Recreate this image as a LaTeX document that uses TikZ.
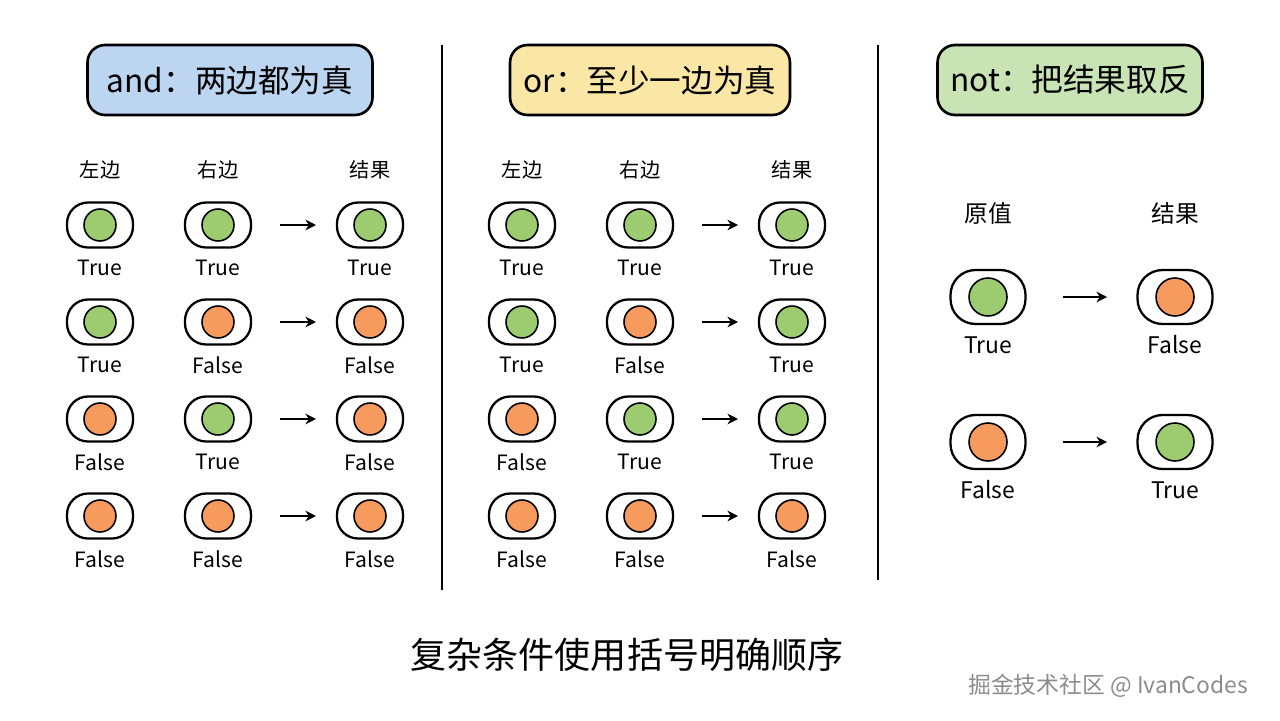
\documentclass[tikz,border=0pt]{standalone}
\usepackage{fontspec}
\setmainfont{Noto Sans CJK SC}
\usetikzlibrary{arrows,arrows.meta}
\definecolor{tgreen}{HTML}{9CCC6F}
\definecolor{torange}{HTML}{F79A5E}
\definecolor{bblue}{HTML}{BCD6F2}
\definecolor{byellow}{HTML}{FBE7A5}
\definecolor{bgreen}{HTML}{C8E3B4}
\newcommand{\tok}[5]{%
  \node[outer] (#1) at (#2,#3) {};
  \node[inner, fill=#4] at (#1) {};
  \node[lbl] (#1l) at (#2,#3+43) {#5};}
\newcommand{\bigtok}[5]{%
  \node[outer, minimum width=1.5cm, minimum height=1.08cm, rounded corners=0.5cm] (#1) at (#2,#3) {};
  \node[inner, minimum size=0.76cm, fill=#4] at (#1) {};
  \node[lbl, font=\fontsize{13}{13}\selectfont] (#1l) at (#2,#3+48) {#5};}
\begin{document}
\begin{tikzpicture}[x=0.02cm, y=-0.02cm, >=stealth]
		\tikzstyle{outer} = [draw, line width=1.3pt, rounded corners=0.42cm, minimum width=1.32cm, minimum height=0.9cm, inner sep=0pt]
		\tikzstyle{inner} = [draw, line width=0.9pt, circle, minimum size=0.64cm, inner sep=0pt]
		\tikzstyle{lbl} = [font=\fontsize{12}{12}\selectfont]
		\tikzstyle{head} = [font=\fontsize{11.5}{11.5}\selectfont]
		\tikzstyle{title} = [draw, line width=1.5pt, rounded corners=0.35cm, minimum height=1.4cm, font=\fontsize{18}{18}\selectfont]
		\tikzstyle{arr} = [-{Stealth[length=6pt,width=6pt]}, line width=1.1pt]

		\useasboundingbox (0,0) rectangle (1280,720);

		% titles
		\node[title, fill=bblue, minimum width=5.7cm] (tand) at (230,80) {and：两边都为真};
		\node[title, fill=byellow, minimum width=5.6cm] (tor) at (650,80) {or：至少一边为真};
		\node[title, fill=bgreen, minimum width=5.3cm] (tnot) at (1070,80) {not：把结果取反};

		% separators
		\coordinate (s1a) at (442,45); \coordinate (s1b) at (442,590);
		\coordinate (s2a) at (878,45); \coordinate (s2b) at (878,580);
		\draw[line width=1.2pt] (s1a) -- (s1b);
		\draw[line width=1.2pt] (s2a) -- (s2b);

		% and / or panels
		\foreach \p/\dx in {a/0, o/422} {
			\node[head] (\p h1) at (100+\dx,170) {左边};
			\node[head] (\p h2) at (218+\dx,170) {右边};
			\node[head] (\p h3) at (370+\dx,170) {结果};
		}
		\foreach \r/\y/\cl/\ll/\cr/\lr in {1/225/tgreen/True/tgreen/True, 2/322/tgreen/True/torange/False, 3/419/torange/False/tgreen/True, 4/516/torange/False/torange/False} {
			\tok{aL\r}{100}{\y}{\cl}{\ll}
			\tok{aR\r}{218}{\y}{\cr}{\lr}
			\tok{oL\r}{522}{\y}{\cl}{\ll}
			\tok{oR\r}{640}{\y}{\cr}{\lr}
		}
		\foreach \r/\y/\ca/\la/\co/\lo in {1/225/tgreen/True/tgreen/True, 2/322/torange/False/tgreen/True, 3/419/torange/False/tgreen/True, 4/516/torange/False/torange/False} {
			\tok{aX\r}{370}{\y}{\ca}{\la}
			\tok{oX\r}{792}{\y}{\co}{\lo}
			\draw[arr] (aR\r) ++(62,0) -- ++(36,0);
			\draw[arr] (oR\r) ++(62,0) -- ++(36,0);
		}

		% not panel
		\node[head, font=\fontsize{13.5}{13.5}\selectfont] (nh1) at (988,213) {原值};
		\node[head, font=\fontsize{13.5}{13.5}\selectfont] (nh2) at (1175,213) {结果};
		\bigtok{nA1}{988}{297}{tgreen}{True}
		\bigtok{nB1}{1175}{297}{torange}{False}
		\bigtok{nA2}{988}{442}{torange}{False}
		\bigtok{nB2}{1175}{442}{tgreen}{True}
		\draw[arr] (nA1) ++(75,0) -- ++(44,0);
		\draw[arr] (nA2) ++(75,0) -- ++(44,0);

		% footer
		\node[font=\fontsize{20.5}{20.5}\selectfont] (foot) at (627,655) {复杂条件使用括号明确顺序};
		\node[font=\fontsize{13}{13}\selectfont, text=black!45] (mark) at (1108,686) {掘金技术社区 @ IvanCodes};
\end{tikzpicture}
\end{document}
